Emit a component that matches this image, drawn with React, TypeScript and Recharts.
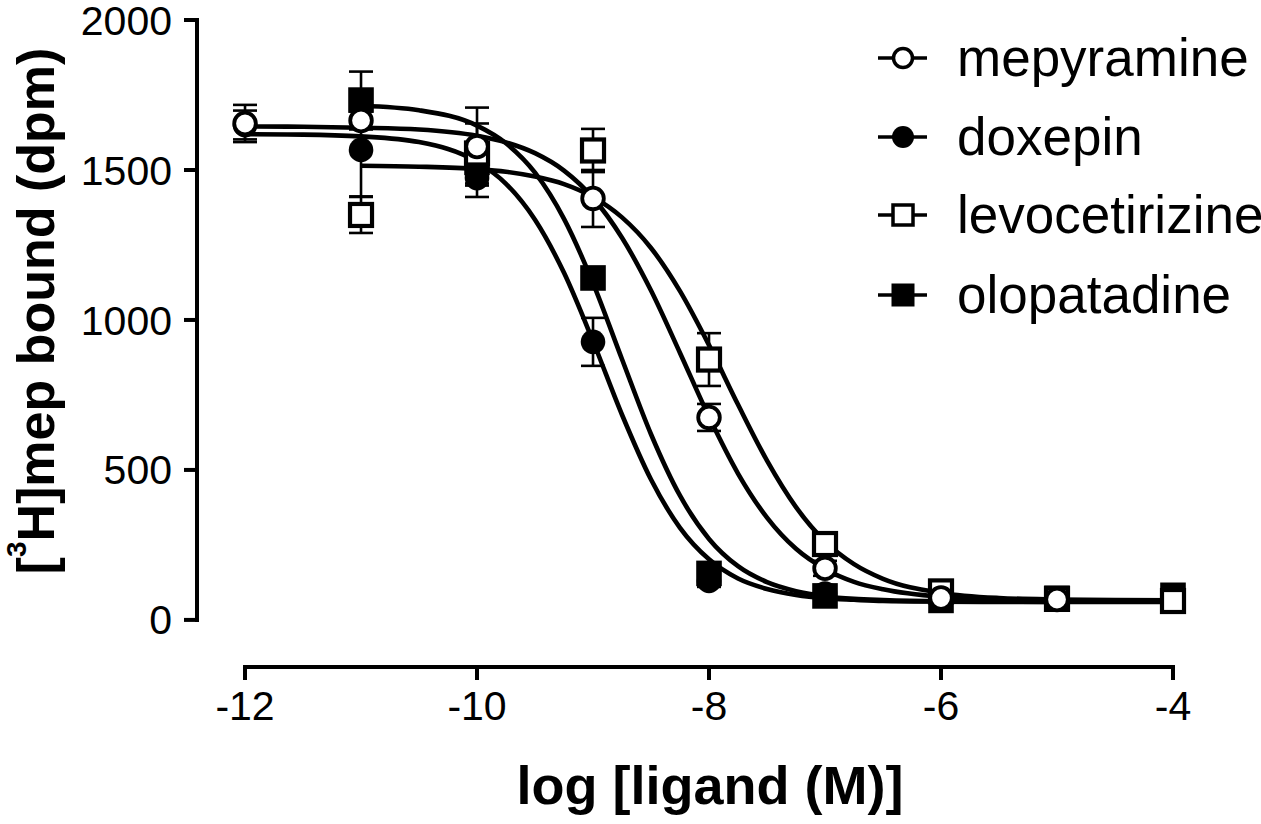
import React from 'react';
import {
  ComposedChart,
  Line,
  Scatter,
  XAxis,
  YAxis,
  ErrorBar,
  ReferenceLine,
  Legend,
} from 'recharts';

const FONT = '"Liberation Sans", Arial, Helvetica, sans-serif';

// ---- measured points (mean ± SEM) ----
const DOSES_MEP_DOX = [-12, -11, -10, -9, -8, -7, -6, -5];
const DOSES_LEVO_OLO = [-11, -10, -9, -8, -7, -6, -5, -4];

const MEPYRAMINE = [1655, 1665, 1578, 1405, 675, 172, 73, 68];
const MEPYRAMINE_SEM = [62, 30, 130, 95, 45, 25, 15, 15];
const DOXEPIN = [1650, 1567, 1473, 927, 130, 88, 68, 70];
const DOXEPIN_SEM = [48, 155, 63, 80, 20, 15, 10, 10];
const LEVOCETIRIZINE = [1350, 1555, 1565, 868, 253, 95, 70, 63];
const LEVOCETIRIZINE_SEM = [60, 100, 72, 88, 25, 15, 10, 10];
const OLOPATADINE = [1733, 1525, 1140, 155, 80, 65, 72, 82];
const OLOPATADINE_SEM = [95, 40, 25, 20, 10, 10, 10, 10];

// ---- fitted curves ----
const CURVE_X_MEP_DOX = [-12, -11.5, -11, -10.5, -10, -9.75, -9.5, -9.25, -9, -8.75, -8.5, -8.25, -8, -7.75, -7.5, -7.25, -7, -6.75, -6.5, -6, -5.5, -5];
const CURVE_X_LEVO_OLO = [-11, -10.5, -10, -9.75, -9.5, -9.25, -9, -8.75, -8.5, -8.25, -8, -7.75, -7.5, -7.25, -7, -6.75, -6.5, -6, -5.5, -5, -4.5, -4];
const MEPYRAMINE_FIT = [1645, 1644, 1641, 1635, 1614, 1592, 1556, 1498, 1407, 1274, 1098, 890, 677, 488, 341, 237, 170, 127, 102, 77, 69, 66];
const DOXEPIN_FIT = [1619, 1618, 1612, 1593, 1527, 1454, 1334, 1157, 929, 684, 468, 307, 202, 138, 103, 83, 72, 67, 63, 61, 60, 60];
const LEVOCETIRIZINE_FIT = [1514, 1511, 1503, 1494, 1478, 1453, 1410, 1342, 1240, 1096, 916, 718, 531, 376, 262, 186, 137, 90, 73, 68, 66, 65];
const OLOPATADINE_FIT = [1714, 1699, 1648, 1589, 1491, 1337, 1123, 869, 619, 414, 270, 179, 126, 96, 79, 70, 66, 62, 61, 60, 60, 60];

// ---- axes ----
const X_TICKS = [-12, -10, -8, -6, -4];
const Y_TICKS = [0, 500, 1000, 1500, 2000];
const X_DOMAIN: [number, number] = [-12.414, -4];
const Y_DOMAIN: [number, number] = [-157, 2000];

const SERIES_NAMES = ['mepyramine', 'doxepin', 'levocetirizine', 'olopatadine'];

const toPoints = (xs: number[], ys: number[], errs?: number[]) =>
  xs.map((x, i) => ({ x, y: ys[i], err: errs ? errs[i] : 0 }));

const OpenCircle = (p: any) => (
  <circle cx={p.cx} cy={p.cy} r={10.8} fill="#fff" stroke="#000" strokeWidth={3.8} />
);
const FilledCircle = (p: any) => <circle cx={p.cx} cy={p.cy} r={12.3} fill="#000" />;
const OpenSquare = (p: any) => (
  <rect x={p.cx - 11} y={p.cy - 11} width={22} height={22} fill="#fff" stroke="#000" strokeWidth={4.2} />
);
const FilledSquare = (p: any) => (
  <rect x={p.cx - 12.8} y={p.cy - 12.8} width={25.6} height={25.6} fill="#000" />
);

const LEGEND_MARKERS = [
  (cx: number, cy: number) => <circle cx={cx} cy={cy} r={9.5} fill="#fff" stroke="#000" strokeWidth={3.5} />,
  (cx: number, cy: number) => <circle cx={cx} cy={cy} r={11} fill="#000" />,
  (cx: number, cy: number) => (
    <rect x={cx - 10} y={cy - 10} width={20} height={20} fill="#fff" stroke="#000" strokeWidth={3.5} />
  ),
  (cx: number, cy: number) => <rect x={cx - 11.5} y={cy - 11.5} width={23} height={23} fill="#000" />,
];

const LEGEND_ROW_CENTERS = [58, 137, 215, 295];

const LegendBox = () => (
  <div style={{ position: 'relative', width: 391, height: 340 }}>
    {SERIES_NAMES.map((name, i) => {
      const c = LEGEND_ROW_CENTERS[i];
      return (
        <React.Fragment key={name}>
          <svg
            width={54}
            height={30}
            style={{ position: 'absolute', left: 6, top: c - 15, overflow: 'visible' }}
          >
            <line x1={2} y1={15} x2={51} y2={15} stroke="#000" strokeWidth={3.5} />
            {LEGEND_MARKERS[i](27, 15)}
          </svg>
          <div
            style={{
              position: 'absolute',
              left: 87,
              top: c - 26,
              height: 52,
              lineHeight: '52px',
              fontSize: 53,
              fontFamily: FONT,
              color: '#000',
              whiteSpace: 'nowrap',
            }}
          >
            {name}
          </div>
        </React.Fragment>
      );
    })}
  </div>
);

const YTitle = () => (
  <text
    transform="translate(54,311) rotate(-90)"
    textAnchor="middle"
    fontFamily={FONT}
    fontWeight="bold"
    fontSize={52}
    fill="#000"
  >
    [<tspan fontSize={28} dy={-28}>3</tspan>
    <tspan dy={28}>H]mep bound (dpm)</tspan>
  </text>
);

const XTitle = () => (
  <text x={710} y={804} textAnchor="middle" fontFamily={FONT} fontWeight="bold" fontSize={54} fill="#000">
    log [ligand (M)]
  </text>
);

export default function App() {
  const tickStyle = { fontSize: 41, fill: '#000', fontFamily: FONT };
  const curve = { type: 'monotone' as const, stroke: '#000', strokeWidth: 4.6, dot: false, activeDot: false, isAnimationActive: false, legendType: 'none' as const };
  return (
    <div style={{ position: 'absolute', left: 0, top: 0, width: 1261, height: 824, background: '#fff' }}>
      <ComposedChart width={1261} height={824} margin={{ top: 20, right: 88, bottom: 97, left: 0 }}>
        <XAxis
          type="number"
          dataKey="x"
          domain={X_DOMAIN}
          ticks={X_TICKS}
          interval={0}
          height={60}
          axisLine={false}
          tickLine={{ stroke: '#000', strokeWidth: 4 }}
          tickSize={13}
          tickMargin={11}
          tick={tickStyle}
          label={<XTitle />}
        />
        <YAxis
          type="number"
          domain={Y_DOMAIN}
          ticks={Y_TICKS}
          interval={0}
          width={197}
          axisLine={false}
          tickLine={{ stroke: '#000', strokeWidth: 4 }}
          tickSize={13}
          tickMargin={12}
          tick={tickStyle}
          label={<YTitle />}
        />
        <ReferenceLine
          segment={[{ x: X_DOMAIN[0], y: 0 }, { x: X_DOMAIN[0], y: 2000 }]}
          stroke="#000"
          strokeWidth={4}
          strokeLinecap="square"
          ifOverflow="visible"
        />
        <ReferenceLine
          segment={[{ x: -12, y: Y_DOMAIN[0] }, { x: -4, y: Y_DOMAIN[0] }]}
          stroke="#000"
          strokeWidth={4}
          strokeLinecap="square"
          ifOverflow="visible"
        />

        <Line data={toPoints(CURVE_X_MEP_DOX, MEPYRAMINE_FIT)} dataKey="y" {...curve} />
        <Line data={toPoints(CURVE_X_MEP_DOX, DOXEPIN_FIT)} dataKey="y" {...curve} />
        <Line data={toPoints(CURVE_X_LEVO_OLO, LEVOCETIRIZINE_FIT)} dataKey="y" {...curve} />
        <Line data={toPoints(CURVE_X_LEVO_OLO, OLOPATADINE_FIT)} dataKey="y" {...curve} />

        <Scatter name="olopatadine" data={toPoints(DOSES_LEVO_OLO, OLOPATADINE, OLOPATADINE_SEM)} dataKey="y" shape={FilledSquare} isAnimationActive={false}>
          <ErrorBar dataKey="err" direction="y" width={12} strokeWidth={2.6} stroke="#000" />
        </Scatter>
        <Scatter name="doxepin" data={toPoints(DOSES_MEP_DOX, DOXEPIN, DOXEPIN_SEM)} dataKey="y" shape={FilledCircle} isAnimationActive={false}>
          <ErrorBar dataKey="err" direction="y" width={12} strokeWidth={2.6} stroke="#000" />
        </Scatter>
        <Scatter name="levocetirizine" data={toPoints(DOSES_LEVO_OLO, LEVOCETIRIZINE, LEVOCETIRIZINE_SEM)} dataKey="y" shape={OpenSquare} isAnimationActive={false}>
          <ErrorBar dataKey="err" direction="y" width={12} strokeWidth={2.6} stroke="#000" />
        </Scatter>
        <Scatter name="mepyramine" data={toPoints(DOSES_MEP_DOX, MEPYRAMINE, MEPYRAMINE_SEM)} dataKey="y" shape={OpenCircle} isAnimationActive={false}>
          <ErrorBar dataKey="err" direction="y" width={12} strokeWidth={2.6} stroke="#000" />
        </Scatter>

        <Legend
          layout="horizontal"
          verticalAlign="middle"
          align="center"
          wrapperStyle={{ position: 'absolute', left: 870, top: 0, width: 391, height: 340 }}
          content={() => <LegendBox />}
        />
      </ComposedChart>
    </div>
  );
}
